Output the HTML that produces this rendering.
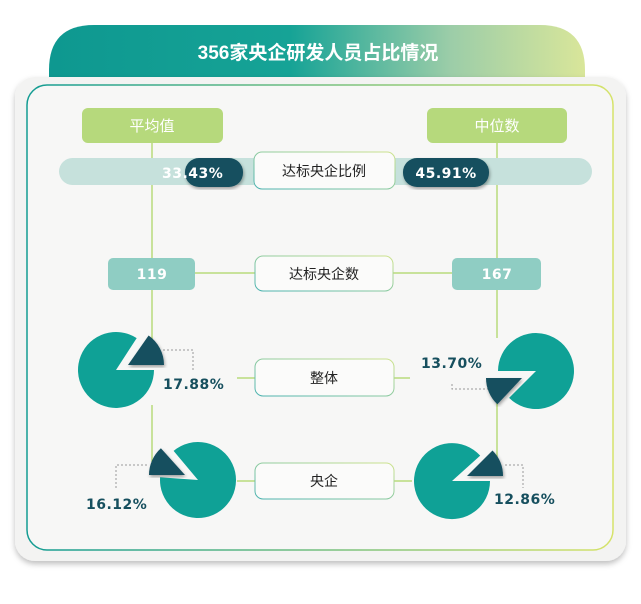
<!DOCTYPE html>
<html><head><meta charset="utf-8"><style>
html,body{margin:0;padding:0;background:#fff;width:641px;height:604px;overflow:hidden}
svg{display:block}
.cn{font-family:"Liberation Sans","Noto Sans CJK SC",sans-serif}
.num{font-family:"DejaVu Sans","Liberation Sans",sans-serif;font-weight:bold;fill:#164f5e;font-size:14px;letter-spacing:0.5px}
</style></head><body>
<svg width="641" height="604" viewBox="0 0 641 604" xmlns="http://www.w3.org/2000/svg">
<defs>
<linearGradient id="hg" x1="0" x2="1" y1="0" y2="0">
<stop offset="0" stop-color="#0e9890"/><stop offset="0.45" stop-color="#16a396"/><stop offset="0.75" stop-color="#9ccda8"/><stop offset="1" stop-color="#d9e69a"/>
</linearGradient>
<linearGradient id="bg" x1="0" x2="1" y1="0" y2="0">
<stop offset="0" stop-color="#139c93"/><stop offset="1" stop-color="#d6e36a"/>
</linearGradient>
<linearGradient id="bx" x1="0" x2="1" y1="1" y2="0">
<stop offset="0" stop-color="#4ab2b0"/><stop offset="1" stop-color="#cfe38e"/>
</linearGradient>
<filter id="sh" x="-10%" y="-10%" width="120%" height="120%"><feDropShadow dx="0" dy="3" stdDeviation="3" flood-color="#000" flood-opacity="0.25"/></filter>
<filter id="sh2"><feDropShadow dx="1" dy="2" stdDeviation="1.5" flood-color="#000" flood-opacity="0.35"/></filter>
</defs>
<path d="M49 77 L49 70 Q49 25 94 25 L540 25 Q585 25 585 70 L585 77 Z" fill="url(#hg)"/>
<text x="318" y="59" text-anchor="middle" class="cn" font-size="19" font-weight="bold" fill="#fff">356家央企研发人员占比情况</text>
<rect x="15" y="77" width="611" height="484" rx="20" fill="#f3f3f2" filter="url(#sh)"/>
<rect x="27" y="85" width="586" height="465" rx="20" fill="#f7f7f6" stroke="url(#bg)" stroke-width="1.5"/>

<g stroke="#b9db7c" stroke-width="1.5" fill="none">
<line x1="152" y1="143" x2="152" y2="340"/><line x1="152" y1="405" x2="152" y2="462"/>
<line x1="497" y1="143" x2="497" y2="338"/><line x1="497" y1="402" x2="497" y2="458"/>
<line x1="195" y1="273" x2="255" y2="273"/><line x1="393" y1="273" x2="452" y2="273"/>
<line x1="237" y1="378" x2="255" y2="378"/><line x1="394" y1="378" x2="410" y2="378"/>
<line x1="237" y1="481" x2="255" y2="481"/><line x1="394" y1="481" x2="412" y2="481"/>
</g>

<rect x="82" y="108" width="141" height="35" rx="6" fill="#b6d97c"/>
<text x="152" y="131" text-anchor="middle" class="cn" font-size="15" fill="#fff">平均值</text>
<rect x="427" y="108" width="140" height="35" rx="6" fill="#b6d97c"/>
<text x="497" y="131" text-anchor="middle" class="cn" font-size="15" fill="#fff">中位数</text>

<rect x="59" y="158" width="533" height="27" rx="13.5" fill="#c6e1dc"/>
<rect x="185" y="158" width="58" height="29" rx="14" fill="#164f5e" filter="url(#sh2)"/>
<text x="162" y="178" class="num" font-size="15" style="fill:#fff">33.43%</text>
<rect x="403" y="158" width="86" height="29" rx="14" fill="#164f5e" filter="url(#sh2)"/>
<text x="446" y="178" text-anchor="middle" class="num" font-size="15" style="fill:#fff">45.91%</text>
<rect x="254" y="152" width="141" height="37" rx="8" fill="#fbfbfa" stroke="url(#bx)" stroke-width="1"/>
<text x="324" y="176" text-anchor="middle" class="cn" font-size="14" fill="#222">达标央企比例</text>

<rect x="108" y="258" width="87" height="32" rx="5" fill="#8fcdc3"/>
<text x="152" y="279" text-anchor="middle" class="num" font-size="15" style="fill:#fff">119</text>
<rect x="452" y="258" width="89" height="32" rx="5" fill="#8fcdc3"/>
<text x="497" y="279" text-anchor="middle" class="num" font-size="15" style="fill:#fff">167</text>
<rect x="255" y="256" width="138" height="35" rx="8" fill="#fbfbfa" stroke="url(#bx)" stroke-width="1"/>
<text x="324" y="279" text-anchor="middle" class="cn" font-size="14" fill="#222">达标央企数</text>

<rect x="255" y="359" width="139" height="37" rx="8" fill="#fbfbfa" stroke="url(#bx)" stroke-width="1"/>
<text x="324" y="383" text-anchor="middle" class="cn" font-size="14" fill="#222">整体</text>
<rect x="255" y="463" width="139" height="36" rx="8" fill="#fbfbfa" stroke="url(#bx)" stroke-width="1"/>
<text x="324" y="486" text-anchor="middle" class="cn" font-size="14" fill="#222">央企</text>

<g stroke="#999" stroke-width="1" stroke-dasharray="2,2" fill="none">
<polyline points="163,350 193,350 193,372"/>
<polyline points="452,384 452,389 491,389"/>
<polyline points="147,465 116,465 116,490"/>
<polyline points="505,465 523,465 523,488"/>
</g>

<g id="pies"></g>

<text x="163" y="389" class="num">17.88%</text>
<text x="421" y="368" class="num">13.70%</text>
<text x="86" y="509" class="num">16.12%</text>
<text x="494" y="504" class="num">12.86%</text>
</svg>
<script>
function pt(cx,cy,r,a){a=a*Math.PI/180;return [cx+r*Math.cos(a),cy+r*Math.sin(a)];}
function sector(cx,cy,r,a1,a2){var p1=pt(cx,cy,r,a1),p2=pt(cx,cy,r,a2);var large=((a2-a1+720)%360)>180?1:0;
return "M"+cx+" "+cy+" L"+p1[0].toFixed(1)+" "+p1[1].toFixed(1)+" A"+r+" "+r+" 0 "+large+" 1 "+p2[0].toFixed(1)+" "+p2[1].toFixed(1)+" Z";}
var pies=[
 [116,370,-57,0,-55,0,12,-5],
 [536,371,135,180,133,180,-14,7],
 [198,480,184,230,180,228,-13,-5],
 [452,481,-42,0,-45,0,15,-5]];
var g=document.getElementById("pies"),s="";
pies.forEach(function(p){var r=38;
s+='<path d="'+sector(p[0],p[1],r,p[3],p[2]+360)+'" fill="#0fa196"/>';
s+='<path d="'+sector(p[0]+p[6],p[1]+p[7],36,p[4],p[5])+'" fill="#164f5e" filter="url(#sh2)"/>';});
g.innerHTML=s;
</script>
</body></html>
